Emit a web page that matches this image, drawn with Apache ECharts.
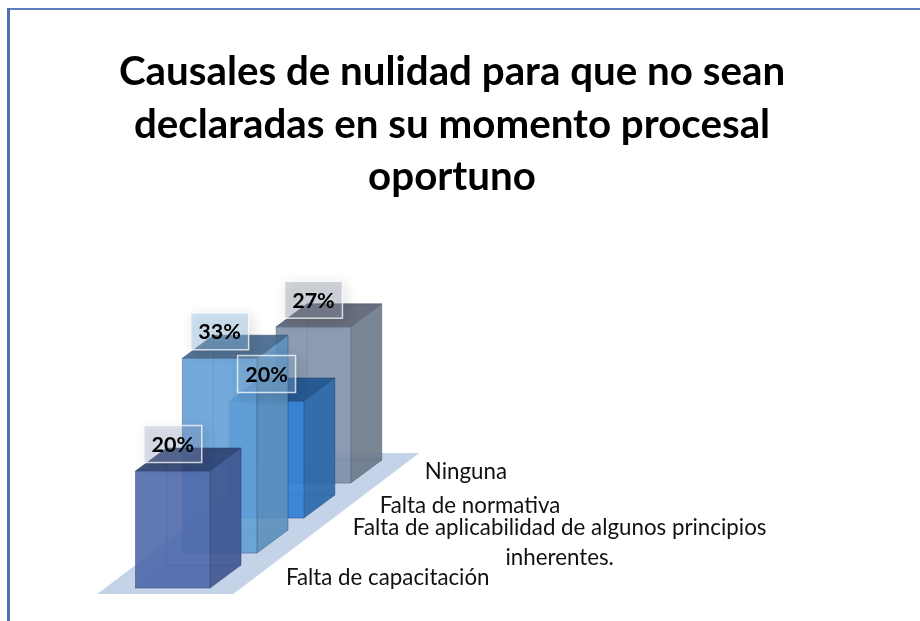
<!DOCTYPE html>
<html><head><meta charset="utf-8">
<style>html,body{margin:0;padding:0;background:#fff}#c{width:920px;height:621px}</style>
<script src="https://cdn.jsdelivr.net/npm/echarts@6/dist/echarts.min.js"></script>
</head><body><div id="c"></div>
<script>
const titleText = 'Causales de nulidad para que no sean\ndeclaradas en su momento procesal\noportuno';
const categories = ['Falta de capacitación', 'Falta de aplicabilidad de algunos principios\ninherentes.', 'Falta de normativa', 'Ninguna'];
const values = [20, 33.3, 20, 26.7];
// style and layout, kept apart from the data
const faceColors = [
  {front:'#4f69ab', side:'#3f578f', top:'#2f4373', box:'rgba(150,165,205,0.28)'},
  {front:'#64a0d6', side:'#5b90bd', top:'#44688c', box:'rgba(150,195,235,0.38)'},
  {front:'#2f7fd6', side:'#2a68a8', top:'#1f5590', box:'rgba(150,190,230,0.3)'},
  {front:'#8090aa', side:'#6d7989', top:'#5a6272', box:'rgba(150,155,175,0.35)'}
];
const labelOffsets = [[215,-10],[340,-10],[203.5,-12],[152.5,-11]];
const FONT = 'Lato, "Open Sans", sans-serif';
const STEP_Y = -35, DEPTH_X = 31, DEPTH_Y = -23, BAR_W = 74.5;

function corners(api, i, v){
  const c = api.coord([i, 0]);
  const h = api.size([0, v])[1];
  const L = c[0] - BAR_W / 2, R = c[0] + BAR_W / 2, B = c[1] + STEP_Y * i, T = B - h;
  return {cx:c[0], L, R, B, T};
}
function poly(points, fill, stroke, lw){
  return {type:'polygon', shape:{points}, style:{fill, stroke:stroke||'none', lineWidth:lw||0.7}};
}
function renderBar(params, api){
  const i = api.value(0), v = api.value(1), col = faceColors[i];
  const {L, R, B, T} = corners(api, i, v);
  const dx = DEPTH_X, dy = DEPTH_Y, edge = 'rgba(30,50,90,0.35)';
  const a = echarts.color.modifyAlpha;
  return {type:'group', children:[
    poly([[L+dx,T+dy],[R+dx,T+dy],[R+dx,B+dy],[L+dx,B+dy]], a(col.front,0.06), edge),
    poly([[L,B],[R,B],[R+dx,B+dy],[L+dx,B+dy]], a(col.side,0.12), edge),
    poly([[L,T],[L+dx,T+dy],[L+dx,B+dy],[L,B]], a(col.side,0.04), edge),
    poly([[R,T],[R+dx,T+dy],[R+dx,B+dy],[R,B]], a(col.side,0.9), edge),
    poly([[L,T],[R,T],[R,B],[L,B]], a(col.front,0.9), edge),
    poly([[L,T],[R,T],[R+dx,T+dy],[L+dx,T+dy]], a(col.top,0.92), edge)
  ]};
}
function renderDataLabel(params, api){
  const i = api.value(0), v = api.value(1);
  const {cx, T} = corners(api, i, v);
  const cy = T - 27, w = 58, h = 37;
  return {type:'group', children:[
    {type:'rect', shape:{x:cx-w/2, y:cy-h/2, width:w, height:h},
     style:{fill:faceColors[i].box, stroke:'rgba(255,255,255,0.75)', lineWidth:1.5,
            shadowColor:'rgba(0,0,0,0.25)', shadowBlur:12, shadowOffsetX:3, shadowOffsetY:3}},
    {type:'text', x:cx, y:cy+1, style:{text:Math.round(v)+'%', font:'bold 21.5px '+FONT, fill:'#000', align:'center', verticalAlign:'middle'}}
  ]};
}
function renderFloor(params, api){
  const n = categories.length;
  const c = api.coord([0, 0]);
  const L = c[0] - 75.5, R = c[0] + 60.5, B = c[1] + 6;
  const sx = 46.5 * n, sy = STEP_Y * n - 1;
  return poly([[L,B],[R,B],[R+sx,B+sy],[L+sx,B+sy]], '#c5d3e8');
}
function renderCategory(params, api){
  const i = api.value(0);
  const {cx, B} = corners(api, i, 0);
  const o = labelOffsets[i];
  return {type:'text', x:cx+o[0], y:B+o[1],
    style:{text:categories[i], font:'22.3px '+FONT, lineHeight:30, fill:'#111', align:'center', verticalAlign:'middle'}};
}
const barData = values.map((v,i)=>[i,v]).reverse();
const chart = echarts.init(document.getElementById('c'), null, {renderer:'canvas'});
chart.setOption({
  animation:false,
  backgroundColor:'#fff',
  title:{text:titleText, left:447, top:41, textAlign:'center',
    textStyle:{fontFamily:FONT, fontWeight:'bold', fontSize:40.3, lineHeight:52.5, color:'#000'}},
  grid:{left:149.3, width:187.6, top:354, height:234},
  xAxis:{type:'category', data:categories, show:false},
  yAxis:{type:'value', min:0, max:40, show:false},
  graphic:[
    {type:'rect', shape:{x:7,y:8,width:913,height:2}, style:{fill:'#5f7fc0'}, silent:true},
    {type:'rect', shape:{x:7,y:8,width:3,height:613}, style:{fill:'#4f6fb5'}, silent:true}
  ],
  series:[
    {type:'custom', z:1, renderItem:renderFloor, data:[[0,0]], silent:true},
    {type:'custom', z:2, renderItem:renderBar, data:barData, encode:{x:0,y:1}, silent:true},
    {type:'custom', z:3, renderItem:renderDataLabel, data:barData, encode:{x:0,y:1}, silent:true},
    {type:'custom', z:3, renderItem:renderCategory, data:barData, encode:{x:0,y:1}, silent:true}
  ]
});
</script></body></html>
